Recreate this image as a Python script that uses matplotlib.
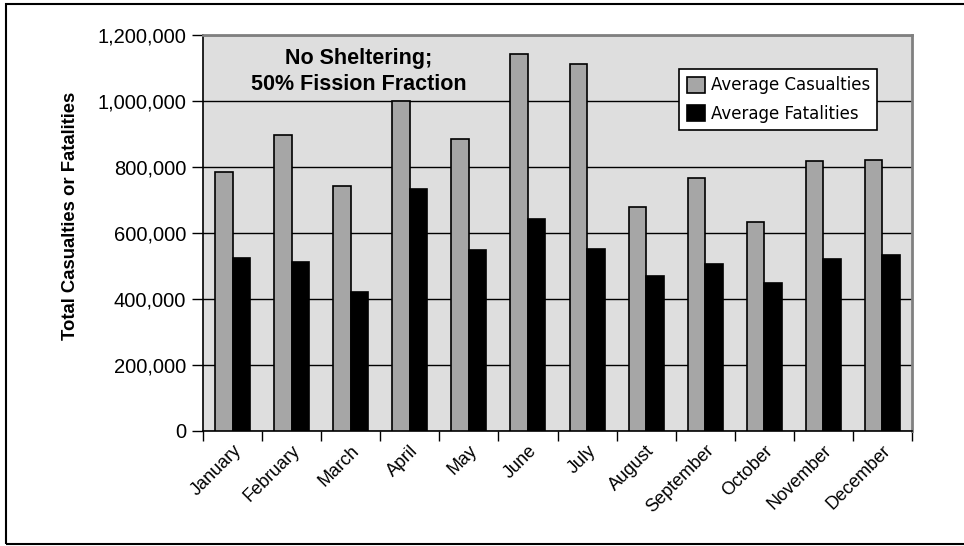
import numpy as np
import matplotlib
matplotlib.use('Agg')
import matplotlib.pyplot as plt
from matplotlib.patches import Rectangle
from matplotlib.ticker import FuncFormatter, FixedLocator

months = ['January', 'February', 'March', 'April', 'May', 'June', 'July',
          'August', 'September', 'October', 'November', 'December']
casualties = [785000, 896000, 743000, 1000000, 884000, 1143000, 1112000,
              678000, 768000, 633000, 817000, 821000]
fatalities = [523000, 511000, 422000, 734000, 547000, 641000, 551000,
              471000, 507000, 450000, 520000, 534000]

plt.rcParams['font.family'] = ['Liberation Sans', 'DejaVu Sans']

fig = plt.figure(figsize=(9.64, 5.46), dpi=100)
ax = fig.add_axes([203/964, 1 - 431/546, 709/964, 396/546])
ax.set_facecolor('#dedede')

x = np.arange(len(months))
w = 0.296
ax.bar(x - w/2, casualties, w, color='#a6a6a6', edgecolor='black', linewidth=1.2,
       label='Average Casualties', zorder=3)
ax.bar(x + w/2, fatalities, w, color='black', edgecolor='black', linewidth=1.2,
       label='Average Fatalities', zorder=3)

ax.set_xlim(-0.5, len(months) - 0.5)
ax.set_ylim(0, 1200000)
ax.set_yticks(np.arange(0, 1200001, 200000))
ax.yaxis.set_major_formatter(FuncFormatter(lambda v, p: f'{int(v):,}'))
ax.yaxis.grid(True, color='black', linewidth=1, zorder=1)
ax.set_axisbelow(True)

# category boundaries get the tick marks, labels sit at the centres
ax.xaxis.set_major_locator(FixedLocator(np.arange(-0.5, len(months), 1)))
ax.xaxis.set_major_formatter(FuncFormatter(lambda v, p: ''))
ax.xaxis.set_minor_locator(FixedLocator(x))
ax.set_xticklabels(months, minor=True, rotation=45, ha='right',
                   rotation_mode='anchor', fontsize=13)
ax.tick_params(axis='x', which='minor', length=0, pad=8)
ax.tick_params(axis='x', which='major', length=7, direction='out', width=1)
ax.tick_params(axis='y', length=8, direction='out', width=1, labelsize=14.5, pad=4)

for s in ['left', 'bottom']:
    ax.spines[s].set_color('black')
    ax.spines[s].set_linewidth(1.2)
for s in ['top', 'right']:
    ax.spines[s].set_color('#808080')
    ax.spines[s].set_linewidth(2)

ax.set_ylabel('Total Casualties or Fatalities', fontsize=13.3, fontweight='bold')
ax.yaxis.set_label_coords(-124/709, 0.542)

ax.text(0.22, 0.907, 'No Sheltering;\n50% Fission Fraction', transform=ax.transAxes,
        ha='center', va='center', fontsize=15.5, fontweight='bold',
        linespacing=1.3)

leg = ax.legend(loc='upper left', bbox_to_anchor=(679/964, 1 - 69/546),
                bbox_transform=fig.transFigure, fontsize=12, frameon=True,
                fancybox=False, edgecolor='black', framealpha=1,
                handlelength=1.1, handleheight=1.1, handletextpad=0.35,
                borderpad=0.45, labelspacing=0.62, borderaxespad=0)
leg.get_frame().set_linewidth(1.2)
for t in leg.get_texts():
    t.set_family('DejaVu Sans')

fig.patches.append(Rectangle((6/964, 2/546), 1.2, 1 - 6/546, transform=fig.transFigure,
                             fill=False, edgecolor='black', linewidth=1.5))

fig.savefig('out.png', dpi=100)
